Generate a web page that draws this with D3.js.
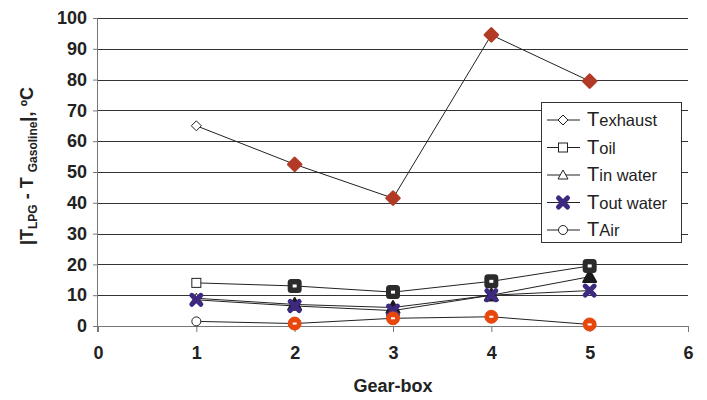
<!DOCTYPE html>
<html><head><meta charset="utf-8">
<script src="https://cdn.jsdelivr.net/npm/d3@7"></script>
<style>body{margin:0;background:#fff}svg{display:block}</style>
</head><body>
<svg id="c" width="707" height="400"></svg>
<script>
const gears = [1, 2, 3, 4, 5];
const xTicks = [0, 1, 2, 3, 4, 5, 6];
const yTicks = [0, 10, 20, 30, 40, 50, 60, 70, 80, 90, 100];
const seriesNames = ["Texhaust", "Toil", "Tin water", "Tout water", "TAir"];
const tExhaust = [65, 52.5, 41.5, 94.5, 79.5];
const tOil = [14, 13, 11, 14.5, 19.5];
const tInWater = [9, 7, 6, 10, 16];
const tOutWater = [8.5, 6.5, 5, 10, 11.5];
const tAir = [1.5, 0.8, 2.5, 3, 0.5];
const seriesValues = [tExhaust, tOil, tInWater, tOutWater, tAir];
const seriesColors = ["#b23a26", "#2b2b2b", "#1a1a1a", "#3d2a80", "#e8470c"];
const seriesShapes = ["diamond", "square", "triangle", "x", "circle"];

const svg = d3.select("#c");
const font = "'Liberation Sans', Arial, sans-serif";
const x = d3.scaleLinear().domain([0, 6]).range([98, 688]);
const y = d3.scaleLinear().domain([0, 100]).range([326, 18]);

// gridlines
svg.append("g").selectAll("line").data(yTicks.filter(d => d > 0)).join("line")
  .attr("x1", x(0)).attr("x2", x(6)).attr("y1", d => Math.round(y(d)) + 0.5).attr("y2", d => Math.round(y(d)) + 0.5)
  .attr("stroke", "#333").attr("stroke-width", 1);

// y axis
const ya = svg.append("g").attr("transform", `translate(${x(0)},0)`)
  .call(d3.axisLeft(y).tickValues(yTicks).tickSize(5).tickPadding(6));
ya.select(".domain").attr("stroke", "#777").attr("d", `M-0.5,${y(0)+6}V${y(100)}`);
ya.selectAll(".tick line").attr("stroke", "#777");
ya.selectAll("text").attr("font-family", font).attr("font-weight", "bold").attr("font-size", 18).attr("fill", "#222");

// x axis
const xa = svg.append("g").attr("transform", `translate(0,${y(0)})`)
  .call(d3.axisBottom(x).tickValues(xTicks).tickFormat(d3.format("d")).tickSize(6).tickPadding(14));
xa.select(".domain").attr("stroke", "#777").attr("d", `M${x(0)},0.5H${x(6)}`);
xa.selectAll(".tick line").attr("stroke", "#777");
xa.selectAll("text").attr("font-family", font).attr("font-weight", "bold").attr("font-size", 18).attr("fill", "#222");

svg.append("text").attr("x", 393).attr("y", 392).attr("text-anchor", "middle")
  .attr("font-family", font).attr("font-weight", "bold").attr("font-size", 18).attr("fill", "#222")
  .text("Gear-box");

// y title
const yt = svg.append("text").attr("transform", "translate(33,166) rotate(-90)")
  .attr("text-anchor", "middle").attr("font-family", font).attr("font-weight", "bold")
  .attr("font-size", 18).attr("fill", "#222");
yt.append("tspan").text("|T");
yt.append("tspan").attr("font-size", 12).attr("dy", 4).text("LPG");
yt.append("tspan").attr("dy", -4).text(" - T ");
yt.append("tspan").attr("font-size", 12).attr("dy", 4).text("Gasoline");
yt.append("tspan").attr("dy", -4).text("|, ºC");

function marker(g, shape, cx, cy, big, color) {
  const fill = big ? color : "#fff";
  const stroke = big ? color : "#222";
  if (shape === "diamond") {
    const r = big ? 6.5 : 5;
    g.append("path").attr("d", `M${cx},${cy-r}L${cx+r},${cy}L${cx},${cy+r}L${cx-r},${cy}Z`)
      .attr("fill", fill).attr("stroke", stroke).attr("stroke-width", big ? 2.5 : 1).attr("stroke-linejoin", "round");
  } else if (shape === "square") {
    const r = big ? 6 : 4.5;
    g.append("rect").attr("x", cx - r).attr("y", cy - r).attr("width", 2*r).attr("height", 2*r)
      .attr("rx", big ? 2.5 : 0).attr("fill", fill).attr("stroke", stroke).attr("stroke-width", big ? 2 : 1);
    if (big) g.append("rect").attr("x", cx - 2).attr("y", cy - 1.5).attr("width", 4).attr("height", 3).attr("fill", "#fff");
  } else if (shape === "triangle") {
    const r = big ? 6.5 : 5;
    g.append("path").attr("d", `M${cx},${cy-r}L${cx+r},${cy+r*0.8}L${cx-r},${cy+r*0.8}Z`)
      .attr("fill", fill).attr("stroke", stroke).attr("stroke-width", big ? 2 : 1).attr("stroke-linejoin", "round");
  } else if (shape === "x") {
    const r = 4.5;
    g.append("path").attr("d", `M${cx-r},${cy-r}L${cx+r},${cy+r}M${cx+r},${cy-r}L${cx-r},${cy+r}`)
      .attr("stroke", color).attr("stroke-width", 5).attr("stroke-linecap", "round");
  } else if (shape === "circle") {
    const r = big ? 6.5 : 4.5;
    g.append("circle").attr("cx", cx).attr("cy", cy).attr("r", r)
      .attr("fill", fill).attr("stroke", stroke).attr("stroke-width", 1);
    if (big) g.append("rect").attr("x", cx - 2).attr("y", cy - 1).attr("width", 4).attr("height", 2).attr("fill", "#fff");
  }
}

const line = d3.line().x((d, i) => x(gears[i])).y(d => y(d));
seriesValues.forEach((vals) => {
  svg.append("path").attr("d", line(vals)).attr("fill", "none").attr("stroke", "#222").attr("stroke-width", 1);
});
[2, 0, 1, 3, 4].forEach(si => {
  const g = svg.append("g");
  seriesValues[si].forEach((v, i) => marker(g, seriesShapes[si], x(gears[i]), y(v), i > 0, seriesColors[si]));
});

// legend
const lg = svg.append("g");
lg.append("rect").attr("x", 541.5).attr("y", 102.5).attr("width", 140).attr("height", 140)
  .attr("fill", "#fff").attr("stroke", "#333").attr("stroke-width", 1);
const legY = d3.scalePoint().domain(seriesNames).range([120, 230]);
seriesNames.forEach((n, i) => {
  const cy = legY(n);
  lg.append("line").attr("x1", 547).attr("x2", 580).attr("y1", cy).attr("y2", cy).attr("stroke", "#222");
  marker(lg, seriesShapes[i], 563, cy, seriesShapes[i] === "x", seriesColors[i]);
  const t = lg.append("text").attr("x", 587).attr("y", cy + 6).attr("font-family", font)
    .attr("font-size", 16.5).attr("fill", "#222");
  t.append("tspan").attr("font-size", 20).text(n.charAt(0));
  t.append("tspan").text(n.slice(1));
});
</script>
</body></html>
